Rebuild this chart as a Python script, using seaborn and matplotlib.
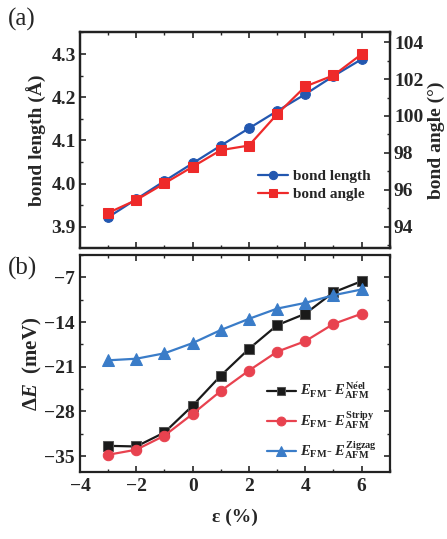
import numpy as np
import pandas as pd
import matplotlib
matplotlib.use("Agg")
import matplotlib.pyplot as plt
from matplotlib.ticker import MultipleLocator
import seaborn as sns

# strain (%)
strain = [-3, -2, -1, 0, 1, 2, 3, 4, 5, 6]

# panel (a)
bond_length = [3.922, 3.964, 4.006, 4.047, 4.088, 4.128, 4.168, 4.207, 4.249, 4.288]
bond_angle = [94.75, 95.45, 96.35, 97.25, 98.15, 98.4, 100.1, 101.6, 102.2, 103.35]

# panel (b), meV
neel = [-33.4, -33.5, -31.3, -27.1, -22.4, -18.2, -14.5, -12.7, -9.35, -7.6]
stripy = [-34.8, -34.0, -31.8, -28.4, -24.8, -21.6, -18.65, -17.0, -14.3, -12.7]
zigzag = [-20.0, -19.75, -18.9, -17.3, -15.25, -13.5, -11.9, -11.0, -9.8, -8.9]

sns.set_theme(style="ticks")
plt.rcParams["font.family"] = ["Liberation Serif", "DejaVu Serif"]
plt.rcParams["font.weight"] = "bold"
plt.rcParams["mathtext.fontset"] = "custom"
plt.rcParams["mathtext.rm"] = "Liberation Serif:bold"
plt.rcParams["mathtext.it"] = "Liberation Serif:italic:bold"
plt.rcParams["mathtext.bf"] = "Liberation Serif:bold"
plt.rcParams["axes.linewidth"] = 1.6
plt.rcParams["axes.edgecolor"] = "#222222"

fig = plt.figure(figsize=(4.47, 5.39), dpi=100)
ax1 = fig.add_axes([0.179, 0.54, 0.693, 0.4006])
ax2 = fig.add_axes([0.179, 0.1243, 0.693, 0.4026])

blue = "#2257b0"
red = "#ee2a2a"

df_a = pd.DataFrame({"strain": strain, "length": bond_length, "angle": bond_angle})
sns.lineplot(data=df_a, x="strain", y="length", ax=ax1, color=blue, marker="o",
             markersize=7, markeredgecolor=blue, linewidth=1.6, label="bond length", legend=False)
ax1b = ax1.twinx()
sns.lineplot(data=df_a, x="strain", y="angle", ax=ax1b, color=red, marker="s",
             markersize=6.5, markeredgecolor=red, linewidth=1.6, label="bond angle", legend=False)

ax1.set_xlim(-4, 7)
ax1.set_ylim(3.851, 4.351)
ax1b.set_ylim(92.85, 104.55)
ax1.set_xlabel("")
ax1.set_ylabel("bond length (Å)", fontsize=14, fontweight="bold", labelpad=3)
ax1b.set_ylabel("bond angle (°)", fontsize=14, fontweight="bold", labelpad=3)
ax1.xaxis.set_major_locator(MultipleLocator(2))
ax1.xaxis.set_minor_locator(MultipleLocator(1))
ax1.yaxis.set_major_locator(MultipleLocator(0.1))
ax1.yaxis.set_minor_locator(MultipleLocator(0.05))
ax1b.yaxis.set_major_locator(MultipleLocator(2))
ax1b.yaxis.set_minor_locator(MultipleLocator(1))
ax1.tick_params(axis="x", which="both", direction="in", top=True, labelbottom=False)
ax1.tick_params(axis="y", which="both", direction="in", right=False, labelsize=14)
ax1b.tick_params(axis="y", which="both", direction="in", labelsize=14)
for a in (ax1, ax1b):
    a.tick_params(which="major", length=4.5, width=1.2, pad=3)
    a.tick_params(which="minor", length=2.5, width=1.0)
    for lab in a.get_yticklabels():
        lab.set_fontweight("bold")

h1, l1 = ax1.get_legend_handles_labels()
h2, l2 = ax1b.get_legend_handles_labels()
ax1b.legend(h1 + h2, l1 + l2, loc="center left", bbox_to_anchor=(0.53, 0.29), frameon=False,
            prop={"weight": "bold", "size": 11}, handlelength=2.0, handletextpad=0.3,
            labelspacing=0.25, markerscale=0.85)

# panel (b)
df_b = pd.DataFrame({"strain": strain * 3,
                     "dE": neel + stripy + zigzag,
                     "cfg": ["Neel"] * 10 + ["Stripy"] * 10 + ["Zigzag"] * 10})
labels = {
    "Neel": r"$E_{\rm FM}$- $E_{\rm AFM}^{\rm N\acute{e}el}$",
    "Stripy": r"$E_{\rm FM}$- $E_{\rm AFM}^{\rm Stripy}$",
    "Zigzag": r"$E_{\rm FM}$- $E_{\rm AFM}^{\rm Zigzag}$",
}
styles = {"Neel": ("#1a1a1a", "s"), "Stripy": ("#e8424f", "o"), "Zigzag": ("#3a7cc8", "^")}
for cfg in ["Neel", "Stripy", "Zigzag"]:
    c, m = styles[cfg]
    sub = df_b[df_b["cfg"] == cfg]
    sns.lineplot(data=sub, x="strain", y="dE", ax=ax2, color=c, marker=m,
                 markersize=8 if m == "^" else 7.5, markeredgecolor="#555555" if cfg == "Neel" else c,
                 linewidth=1.6, label=labels[cfg], legend=False)

ax2.set_xlim(-4, 7)
ax2.set_ylim(-37.5, -3.5)
ax2.set_yticks([-7, -14, -21, -28, -35])
ax2.yaxis.set_minor_locator(MultipleLocator(3.5))
ax2.xaxis.set_major_locator(MultipleLocator(2))
ax2.xaxis.set_minor_locator(MultipleLocator(1))
ax2.tick_params(which="both", direction="in", top=True, right=True, labelsize=14)
ax2.tick_params(which="major", length=4.5, width=1.2, pad=4)
ax2.tick_params(which="minor", length=2.5, width=1.0)
for lab in ax2.get_xticklabels() + ax2.get_yticklabels():
    lab.set_fontweight("bold")
ax2.set_xlabel("ε (%)", fontsize=14, fontweight="bold", labelpad=10)
ax2.set_ylabel(r"$\mathit{\Delta E}$  (meV)", fontsize=15, fontweight="bold", labelpad=0)
ax2.legend(loc="center left", bbox_to_anchor=(0.56, 0.235), frameon=False,
           prop={"weight": "bold", "size": 10.5}, handlelength=2.0, handletextpad=0.3,
           labelspacing=0.55, markerscale=0.85)

fig.text(0.018, 0.953, "(a)", fontsize=18, fontweight="normal")
fig.text(0.018, 0.49, "(b)", fontsize=18, fontweight="normal")

fig.savefig("out.png", dpi=100)
